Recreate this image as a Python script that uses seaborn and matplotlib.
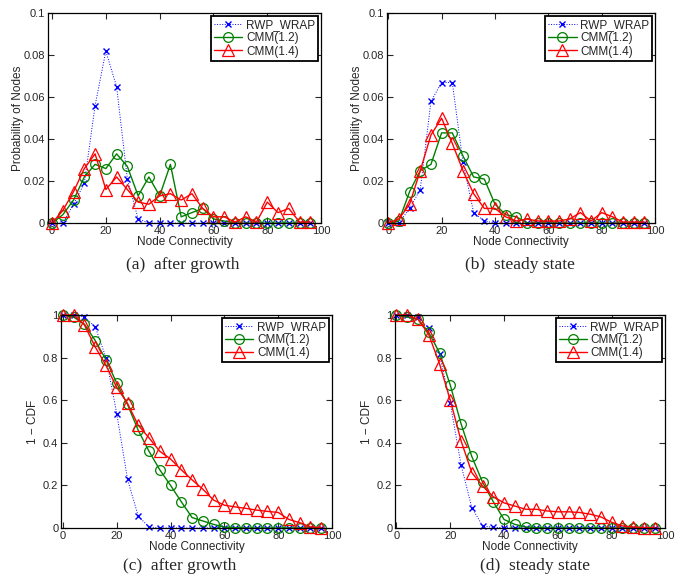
import matplotlib
matplotlib.use("Agg")
import matplotlib.pyplot as plt
import seaborn as sns
import numpy as np

# node connectivity bins
conn = [0, 4, 8, 12, 16, 20, 24, 28, 32, 36, 40, 44, 48,
        52, 56, 60, 64, 68, 72, 76, 80, 84, 88, 92, 96]

# (a) pdf after growth
pdf_a_rwp = [0, 0, 0.009, 0.019, 0.056, 0.082, 0.065, 0.021, 0.002, 0, 0, 0, 0,
             0, 0, 0, 0, 0, 0, 0, 0, 0, 0, 0, 0]
pdf_a_c12 = [0, 0.004, 0.011, 0.022, 0.028, 0.026, 0.033, 0.027, 0.013, 0.022, 0.013, 0.028, 0.003,
             0.005, 0.007, 0.002, 0.001, 0, 0, 0, 0, 0, 0, 0, 0]
pdf_a_c14 = [0, 0.006, 0.015, 0.026, 0.033, 0.016, 0.022, 0.016, 0.010, 0.009, 0.013, 0.014, 0.011,
             0.014, 0.007, 0.003, 0.003, 0.0005, 0.003, 0.0005, 0.010, 0.005, 0.007, 0.0005, 0.0005]

# (b) pdf steady state
pdf_b_rwp = [0, 0, 0.007, 0.016, 0.058, 0.067, 0.067, 0.029, 0.005, 0.001, 0, 0, 0,
             0, 0, 0, 0, 0, 0, 0, 0, 0, 0, 0, 0]
pdf_b_c12 = [0, 0.001, 0.015, 0.025, 0.028, 0.043, 0.043, 0.032, 0.022, 0.021, 0.009, 0.004, 0.003,
             0, 0, 0, 0, 0, 0, 0, 0, 0, 0, 0, 0]
pdf_b_c14 = [0, 0.002, 0.009, 0.025, 0.042, 0.050, 0.038, 0.025, 0.014, 0.007, 0.007, 0.003, 0.001,
             0.002, 0.001, 0.001, 0.001, 0.002, 0.005, 0.001, 0.005, 0.003, 0.0005, 0.0005, 0.0005]

# (c) 1-CDF after growth
ccdf_c_rwp = [1.0, 1.0, 0.99, 0.945, 0.80, 0.537, 0.229, 0.055, 0.005, 0, 0, 0, 0,
              0, 0, 0, 0, 0, 0, 0, 0, 0, 0, 0, 0]
ccdf_c_c12 = [1.0, 0.99, 0.957, 0.88, 0.79, 0.68, 0.58, 0.458, 0.36, 0.273, 0.20, 0.123, 0.049,
              0.033, 0.017, 0.004, 0.002, 0, 0, 0, 0, 0, 0, 0, 0]
ccdf_c_c14 = [1.0, 1.0, 0.953, 0.85, 0.763, 0.66, 0.585, 0.482, 0.423, 0.36, 0.324, 0.273, 0.226,
              0.182, 0.131, 0.107, 0.099, 0.092, 0.084, 0.078, 0.073, 0.04, 0.025, 0.005, 0.002]

# (d) 1-CDF steady state
ccdf_d_rwp = [1.0, 1.0, 0.99, 0.937, 0.815, 0.585, 0.297, 0.096, 0.01, 0.003, 0.002, 0, 0,
              0, 0, 0, 0, 0, 0, 0, 0, 0, 0, 0, 0]
ccdf_d_c12 = [1.0, 0.99, 0.98, 0.918, 0.823, 0.671, 0.49, 0.336, 0.215, 0.123, 0.04, 0.017, 0.005,
              0.002, 0, 0, 0, 0, 0, 0, 0, 0, 0, 0, 0]
ccdf_d_c14 = [1.0, 1.0, 0.98, 0.908, 0.771, 0.60, 0.41, 0.26, 0.197, 0.147, 0.118, 0.103, 0.088,
              0.088, 0.08, 0.076, 0.076, 0.073, 0.065, 0.052, 0.027, 0.01, 0.005, 0.002, 0.002]

series_names = ["RWP_WRAP", "CMM(1.2)", "CMM(1.4)"]
captions = ["(a)  after growth", "(b)  steady state", "(c)  after growth", "(d)  steady state"]

sns.set_style("ticks")
plt.rcParams["font.family"] = ["Liberation Sans", "DejaVu Sans"]
plt.rcParams["xtick.direction"] = "in"
plt.rcParams["ytick.direction"] = "in"

fig = plt.figure(figsize=(6.86, 5.78), dpi=100)

boxes = [[0.070, 0.614, 0.398, 0.363],
         [0.564, 0.614, 0.391, 0.363],
         [0.089, 0.0865, 0.395, 0.3685],
         [0.576, 0.0865, 0.394, 0.3685]]
panels = [(pdf_a_rwp, pdf_a_c12, pdf_a_c14),
          (pdf_b_rwp, pdf_b_c12, pdf_b_c14),
          (ccdf_c_rwp, ccdf_c_c12, ccdf_c_c14),
          (ccdf_d_rwp, ccdf_d_c12, ccdf_d_c14)]
xmins = [-1.5, -0.5, -0.7, -0.5]
cap_pos = [(0.267, 0.541), (0.758, 0.541), (0.262, 0.021), (0.78, 0.021)]
ylab_x = [-0.088, -0.088, -0.081, -0.081]

for i, (box, data) in enumerate(zip(boxes, panels)):
    ax = fig.add_axes(box)
    rwp, c12, c14 = data
    sns.lineplot(x=conn, y=rwp, ax=ax, color="#0000ff", linestyle=":", linewidth=0.7,
                 marker="x", markersize=5, markeredgecolor="#0000ff", markeredgewidth=1.0,
                 label=series_names[0])
    sns.lineplot(x=conn, y=c12, ax=ax, color="#008000", linestyle="-", linewidth=1.0,
                 marker="o", markersize=7, markerfacecolor="none", markeredgecolor="#008000",
                 markeredgewidth=0.9, label=series_names[1])
    sns.lineplot(x=conn, y=c14, ax=ax, color="#ff0000", linestyle="-", linewidth=1.0,
                 marker="^", markersize=8, markerfacecolor="none", markeredgecolor="#ff0000",
                 markeredgewidth=0.9, label=series_names[2])
    ax.set_xlim(xmins[i], 100)
    ax.set_xticks([0, 20, 40, 60, 80, 100])
    ax.set_xticklabels(["0", "20", "40", "60", "80", "100"])
    if i < 2:
        ax.set_ylim(0, 0.1)
        ax.set_yticks([0, 0.02, 0.04, 0.06, 0.08, 0.1])
        ax.set_yticklabels(["0", "0.02", "0.04", "0.06", "0.08", "0.1"])
        ax.set_ylabel("Probability of Nodes", fontsize=8.5)
    else:
        ax.set_ylim(0, 1)
        ax.set_yticks([0, 0.2, 0.4, 0.6, 0.8, 1])
        ax.set_yticklabels(["0", "0.2", "0.4", "0.6", "0.8", "1"])
        ax.set_ylabel("1 \u2212 CDF", fontsize=8.5)
    ax.yaxis.set_label_coords(ylab_x[i], 0.5)
    ax.set_xlabel("Node Connectivity", fontsize=8.5, labelpad=0)
    ax.tick_params(top=True, right=True, length=4, width=0.8, labelsize=8, pad=2)
    for s in ax.spines.values():
        s.set_linewidth(0.9)
        s.set_color("black")
    for ln in ax.get_lines():
        ln.set_clip_on(False)
    leg = ax.legend(loc="upper right", fontsize=8.5, frameon=True, fancybox=False,
                    borderaxespad=0.25, handlelength=2.4, handletextpad=0.3,
                    borderpad=0.25, labelspacing=0.1, numpoints=1)
    leg.get_frame().set_edgecolor("black")
    leg.get_frame().set_linewidth(1.3)
    leg.get_frame().set_alpha(1)
    fig.text(cap_pos[i][0], cap_pos[i][1], captions[i], ha="center", va="center",
             fontsize=12.5, family=["Liberation Serif", "DejaVu Serif"])

fig.savefig("out.png", dpi=100)
